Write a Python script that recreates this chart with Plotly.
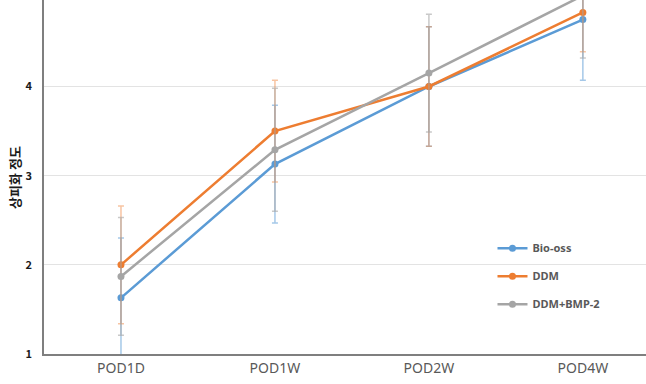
import plotly.graph_objects as go

categories = ["POD1D", "POD1W", "POD2W", "POD4W"]
bio_oss = [1.63, 3.13, 4.00, 4.75]
bio_oss_err = [0.67, 0.66, 0.67, 0.68]
ddm = [2.00, 3.50, 4.00, 4.83]
ddm_err = [0.66, 0.57, 0.67, 0.44]
ddm_bmp2 = [1.87, 3.29, 4.15, 5.02]
ddm_bmp2_err = [0.66, 0.69, 0.66, 0.70]
y_ticks = [1, 2, 3, 4]

series = [
    ("Bio-oss", bio_oss, bio_oss_err, "#5B9BD5", "rgba(91,155,213,0.55)"),
    ("DDM", ddm, ddm_err, "#ED7D31", "rgba(237,125,49,0.45)"),
    ("DDM+BMP-2", ddm_bmp2, ddm_bmp2_err, "#A5A5A5", "rgba(165,165,165,0.6)"),
]

fig = go.Figure()
for i, (name, vals, errs, col, ecol) in enumerate(series):
    fig.add_trace(go.Scatter(
        x=categories, y=vals, name=name, mode="lines+markers",
        line=dict(color=col, width=2.5),
        marker=dict(color=col, size=7),
        error_y=dict(type="data", array=errs, visible=True,
                     color=ecol, thickness=1.5, width=3),
        legendgroup=f"g{i}",
    ))

fig.update_layout(
    width=646, height=384,
    margin=dict(l=44, r=0, t=0, b=30),
    plot_bgcolor="white", paper_bgcolor="white",
    showlegend=True,
    legend=dict(x=0.745, y=0.34, xanchor="left", yanchor="top",
                font=dict(family="Noto Sans", size=11, color="#595959", weight="bold"),
                tracegroupgap=9, itemwidth=30, bgcolor="rgba(0,0,0,0)"),
    xaxis=dict(type="category", range=[-0.5, 3.41], showgrid=False,
               showline=True, linecolor="#7F7F7F", linewidth=1.5,
               ticks="", tickfont=dict(family="Noto Sans", size=14, color="#595959")),
    yaxis=dict(range=[1, 4.97], tickvals=y_ticks, showgrid=True,
               gridcolor="#E3E3E3", gridwidth=1, zeroline=False,
               showline=True, linecolor="#7F7F7F", linewidth=1.5,
               ticks="", ticklabelstandoff=8,
               tickfont=dict(family="Noto Sans CJK KR", size=11, color="#1a1a1a", weight="bold")),
    annotations=[dict(text="상피화 정도", textangle=-90, xref="paper", yref="paper",
                      x=-0.05, y=0.5, xanchor="center", yanchor="middle",
                      showarrow=False,
                      font=dict(family="Noto Sans CJK KR", size=13, color="#1a1a1a", weight="bold"))],
)

fig.write_html("out.html")
